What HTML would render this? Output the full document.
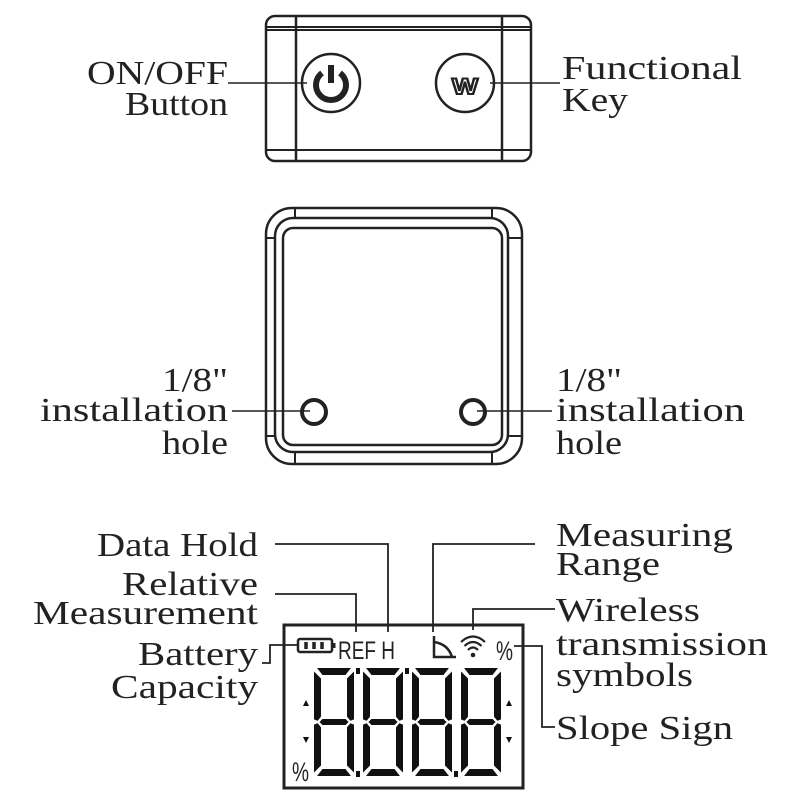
<!DOCTYPE html>
<html><head><meta charset="utf-8"><style>
html,body{margin:0;padding:0;background:#fff;width:800px;height:800px;overflow:hidden}
text{font-family:"Liberation Serif",serif;font-size:34px;fill:#222}
</style></head><body>
<svg width="800" height="800" viewBox="0 0 800 800" xmlns="http://www.w3.org/2000/svg">
<defs>
<g id="dg" fill="#111" stroke="#fff" stroke-width="2" stroke-linejoin="round">
<polygon points="2,0 40,0 33,9 9,9"/>
<polygon points="42,2 42,53 37,55 33,50 33,11"/>
<polygon points="42,57 42,108 33,99 33,60 37,55"/>
<polygon points="2,110 40,110 33,101 9,101"/>
<polygon points="0,57 5,55 9,60 9,99 0,108"/>
<polygon points="0,2 9,11 9,50 5,55 0,53"/>
<polygon points="5,55 9,51 33,51 37,55 33,59 9,59"/>
</g>
</defs>
<g fill="none" stroke="#222">
<rect x="266" y="16" width="265" height="145" rx="9" stroke-width="2.5"/>
<line x1="296" y1="16" x2="296" y2="161" stroke-width="2.5"/>
<line x1="502" y1="16" x2="502" y2="161" stroke-width="2.5"/>
<line x1="266" y1="27" x2="531" y2="27" stroke-width="2"/>
<line x1="266" y1="30" x2="531" y2="30" stroke-width="2"/>
<line x1="266" y1="150" x2="531" y2="150" stroke-width="2"/>
<circle cx="331" cy="83" r="29" stroke-width="2.5"/>
<circle cx="465" cy="83" r="29" stroke-width="2.5"/>
<path d="M322 73 A15 15 0 1 0 340 73" stroke-width="6"/>
<line x1="331" y1="65" x2="331" y2="83" stroke-width="6"/>
<line x1="228" y1="83" x2="307" y2="83" stroke-width="1.5"/>
<line x1="490" y1="83" x2="560" y2="83" stroke-width="1.5"/>
<rect x="266" y="208" width="256" height="256" rx="26" stroke-width="2.5"/>
<rect x="275" y="218" width="233" height="234" rx="18" stroke-width="2.5"/>
<rect x="283" y="228" width="219" height="217" rx="10" stroke-width="2.5"/>
<line x1="295" y1="208" x2="295" y2="218" stroke-width="2"/>
<line x1="492" y1="208" x2="492" y2="218" stroke-width="2"/>
<line x1="295" y1="452" x2="295" y2="464" stroke-width="2"/>
<line x1="492" y1="452" x2="492" y2="464" stroke-width="2"/>
<line x1="266" y1="238" x2="275" y2="238" stroke-width="2"/>
<line x1="508" y1="238" x2="522" y2="238" stroke-width="2"/>
<line x1="266" y1="436" x2="275" y2="436" stroke-width="2"/>
<line x1="508" y1="436" x2="522" y2="436" stroke-width="2"/>
<circle cx="314" cy="412" r="12" stroke-width="4"/>
<circle cx="473" cy="412" r="12" stroke-width="4"/>
<line x1="232" y1="411" x2="310" y2="411" stroke-width="1.5"/>
<line x1="477" y1="411" x2="552" y2="411" stroke-width="1.5"/>
<rect x="284" y="625" width="239" height="163" stroke-width="3"/>
<polyline points="275,544 388,544 388,632" stroke-width="1.8"/>
<polyline points="275,594 356,594 356,632" stroke-width="1.8"/>
<polyline points="262,663 270,663 270,645 297,645" stroke-width="1.8"/>
<polyline points="535,544 433,544 433,632" stroke-width="1.8"/>
<polyline points="555,609 473,609 473,630" stroke-width="1.8"/>
<polyline points="514,646 542,646 542,727 555,727" stroke-width="1.8"/>
<rect x="298" y="639" width="34" height="13" rx="2" stroke-width="2.5"/>
<line x1="334" y1="643" x2="334" y2="648" stroke-width="3"/>
<g stroke-width="3.5"><line x1="306" y1="642" x2="306" y2="649"/><line x1="314" y1="642" x2="314" y2="649"/><line x1="322" y1="642" x2="322" y2="649"/></g>
<polyline points="434,636 434,657 456,657" stroke-width="2.5"/>
<path d="M434 642 Q448 644 452 657" stroke-width="2.5"/>
<path d="M461 642 Q473 631 485 642" stroke-width="2.2"/>
<path d="M464.5 646 Q473 638 481.5 646" stroke-width="2.2"/>
<path d="M468 650 Q473 645 478 650" stroke-width="2.2"/>
</g>
<circle cx="473" cy="655" r="2.3" fill="#222"/>
<text x="338" y="659" style="font-family:'Liberation Sans Narrow','Liberation Sans',sans-serif;font-size:25px" textLength="57" lengthAdjust="spacingAndGlyphs">REF H</text>
<text x="496" y="660" style="font-family:'Liberation Sans',sans-serif;font-size:27px" textLength="17" lengthAdjust="spacingAndGlyphs">%</text>
<text x="292" y="781" style="font-family:'Liberation Sans',sans-serif;font-size:27px" textLength="17" lengthAdjust="spacingAndGlyphs">%</text>
<use href="#dg" x="313" y="667"/>
<use href="#dg" x="362" y="667"/>
<use href="#dg" x="411" y="667"/>
<use href="#dg" x="460" y="667"/>
<g fill="#111">
<rect x="356" y="668" width="4" height="6"/><rect x="405" y="668" width="4" height="6"/>
<rect x="356" y="771" width="4" height="6"/><rect x="454" y="771" width="4" height="6"/>
<polygon points="303,706 309,706 306,700"/><polygon points="303,737 309,737 306,743"/>
<polygon points="506,706 512,706 509,700"/><polygon points="506,737 512,737 509,743"/>
</g>
<g>
<text x="87" y="84" textLength="141" lengthAdjust="spacingAndGlyphs">ON/OFF</text>
<text x="125" y="115" textLength="103" lengthAdjust="spacingAndGlyphs">Button</text>
<text x="562" y="79" textLength="180" lengthAdjust="spacingAndGlyphs">Functional</text>
<text x="562" y="111" textLength="66" lengthAdjust="spacingAndGlyphs">Key</text>
<text x="162" y="391" textLength="66" lengthAdjust="spacingAndGlyphs">1/8"</text>
<text x="40" y="421" textLength="188" lengthAdjust="spacingAndGlyphs">installation</text>
<text x="162" y="454" textLength="66" lengthAdjust="spacingAndGlyphs">hole</text>
<text x="556" y="391" textLength="66" lengthAdjust="spacingAndGlyphs">1/8"</text>
<text x="556" y="421" textLength="189" lengthAdjust="spacingAndGlyphs">installation</text>
<text x="556" y="454" textLength="66" lengthAdjust="spacingAndGlyphs">hole</text>
<text x="97" y="556" textLength="161" lengthAdjust="spacingAndGlyphs">Data Hold</text>
<text x="122" y="595" textLength="136" lengthAdjust="spacingAndGlyphs">Relative</text>
<text x="33" y="624" textLength="225" lengthAdjust="spacingAndGlyphs">Measurement</text>
<text x="138" y="665" textLength="120" lengthAdjust="spacingAndGlyphs">Battery</text>
<text x="111" y="698" textLength="147" lengthAdjust="spacingAndGlyphs">Capacity</text>
<text x="556" y="546" textLength="177" lengthAdjust="spacingAndGlyphs">Measuring</text>
<text x="556" y="575" textLength="104" lengthAdjust="spacingAndGlyphs">Range</text>
<text x="556" y="621" textLength="144" lengthAdjust="spacingAndGlyphs">Wireless</text>
<text x="556" y="655" textLength="212" lengthAdjust="spacingAndGlyphs">transmission</text>
<text x="556" y="686" textLength="137" lengthAdjust="spacingAndGlyphs">symbols</text>
<text x="556" y="739" textLength="177" lengthAdjust="spacingAndGlyphs">Slope Sign</text>
</g>
<text x="452" y="94" style="font-family:'Liberation Sans',sans-serif;font-weight:bold;font-size:22px;fill:#fff;stroke:#222;stroke-width:2" textLength="26" lengthAdjust="spacingAndGlyphs">W</text>
</svg>
</body></html>
